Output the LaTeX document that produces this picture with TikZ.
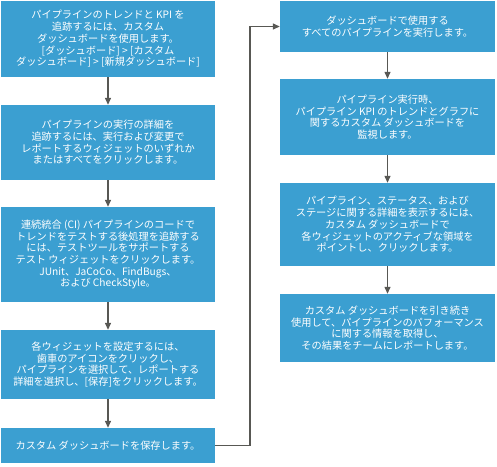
\documentclass[tikz,border=0pt]{standalone}
\usepackage{fontspec}
\newfontfamily\jpfont{Noto Sans CJK JP}
\usetikzlibrary{positioning}
\usetikzlibrary{arrows.meta}
\definecolor{boxblue}{RGB}{59,159,209}
\definecolor{arrowgray}{RGB}{88,88,84}
\tikzset{
    stepbox/.style = {rectangle, fill=boxblue, text=white, align=center, inner sep=0pt,
                      font=\jpfont\fontsize{10.2}{11.7}\selectfont},
    leftbox/.style = {stepbox, minimum width=214pt},
    rightbox/.style = {stepbox, minimum width=215pt},
    edgen/.style = {-{Triangle[length=7pt,width=6pt]}, line width=1.3pt, arrowgray},
}
\begin{document}
\begin{tikzpicture}[x=1pt,y=-1pt]
\useasboundingbox (0,0) rectangle (497,466);
% left column
\node[leftbox, minimum height=76pt] at (108.0, 39.0) (trend) {パイプラインのトレンドと KPI を\\追跡するには、カスタム\\ダッシュボードを使用します。\\{[}ダッシュボード] > [カスタム\\ダッシュボード] > [新規ダッシュボード]};
\node[leftbox, minimum height=75pt] at (108.0, 142.5) (detail) {パイプラインの実行の詳細を\\追跡するには、実行および変更で\\レポートするウィジェットのいずれか\\またはすべてをクリックします。};
\node[leftbox, minimum height=95pt] at (108.0, 254.5) (test) {連続統合 (CI) パイプラインのコードで\\トレンドをテストする後処理を追跡する\\には、テストツールをサポートする\\テスト ウィジェットをクリックします。\\JUnit、JaCoCo、FindBugs、\\および CheckStyle。};
\node[leftbox, minimum height=69pt] at (108.0, 364.5) (config) {各ウィジェットを設定するには、\\歯車のアイコンをクリックし、\\パイプラインを選択して、レポートする\\詳細を選択し、[保存]をクリックします。};
\node[leftbox, minimum height=35pt] at (108.0, 445.5) (save) {カスタム ダッシュボードを保存します。};
% right column
\node[rightbox, minimum height=51pt] at (387.5, 26.5) (run) {ダッシュボードで使用する\\すべてのパイプラインを実行します。};
\node[rightbox, minimum height=76pt] at (387.5, 117.0) (monitor) {パイプライン実行時、\\パイプライン KPI のトレンドとグラフに\\関するカスタム ダッシュボードを\\監視します。};
\node[rightbox, minimum height=83pt] at (387.5, 224.5) (point) {パイプライン、ステータス、および\\ステージに関する詳細を表示するには、\\カスタム ダッシュボードで\\各ウィジェットのアクティブな領域を\\ポイントし、クリックします。};
\node[rightbox, minimum height=68pt] at (387.5, 328.0) (report) {カスタム ダッシュボードを引き続き\\使用して、パイプラインのパフォーマンス\\に関する情報を取得し、\\その結果をチームにレポートします。};
%
\coordinate (turn) at (250.0, 0.0);
\draw[edgen] (trend) -- (detail);
\draw[edgen] (detail) -- (test);
\draw[edgen] (test) -- (config);
\draw[edgen] (config) -- (save);
\draw[edgen] (save.east) -| (turn |- run.west) -- (run.west);
\draw[edgen] (run) -- (monitor);
\draw[edgen] (monitor) -- (point);
\draw[edgen] (point) -- (report);
\end{tikzpicture}
\end{document}
